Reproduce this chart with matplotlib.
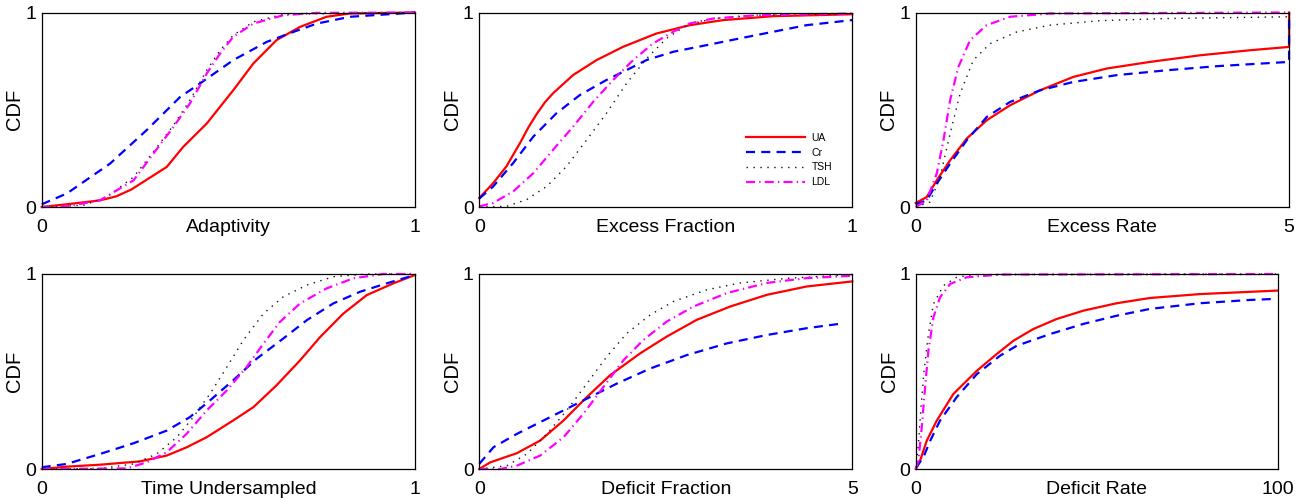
"""
Six-panel CDF comparison of UA, Cr, TSH and LDL.
"""

import matplotlib
matplotlib.use("Agg")
import matplotlib.pyplot as plt

plt.rcParams["font.family"] = ["Liberation Sans", "DejaVu Sans"]
plt.rcParams["lines.scale_dashes"] = False

# ── Series names / styles ──────────────────────────────────────────────
SERIES = ["UA", "Cr", "TSH", "LDL"]
STYLE = {
    "UA":  dict(color="#ff0000", lw=1.6, ls="-"),
    "Cr":  dict(color="#0000ff", lw=1.6, dashes=(6.5, 4.5)),
    "TSH": dict(color="#111111", lw=1.0, dashes=(1.0, 4.0)),
    "LDL": dict(color="#ff00ff", lw=1.6, dashes=(6.5, 3.0, 1.0, 3.0)),
}

# ── Adaptivity ─────────────────────────────────────────────────────────
adapt_ua_x = [0, 0.067, 0.156, 0.200, 0.240, 0.272, 0.335, 0.379, 0.442, 0.513, 0.567, 0.629, 0.692, 0.763, 0.826, 1.0]
adapt_ua_y = [0, 0.014, 0.034, 0.055, 0.090, 0.129, 0.206, 0.309, 0.429, 0.600, 0.738, 0.858, 0.926, 0.978, 0.995, 1.0]
adapt_cr_x = [0, 0.067, 0.183, 0.281, 0.371, 0.424, 0.513, 0.603, 0.674, 0.737, 0.826, 1.0]
adapt_cr_y = [0.014, 0.069, 0.223, 0.395, 0.566, 0.635, 0.755, 0.849, 0.900, 0.943, 0.978, 1.0]
adapt_tsh_x = [0, 0.112, 0.174, 0.246, 0.299, 0.353, 0.397, 0.442, 0.478, 0.513, 0.567, 0.647, 1.0]
adapt_tsh_y = [0, 0.009, 0.051, 0.154, 0.283, 0.420, 0.549, 0.703, 0.806, 0.883, 0.952, 0.991, 1.0]
adapt_ldl_x = [0, 0.067, 0.156, 0.246, 0.299, 0.353, 0.397, 0.442, 0.478, 0.513, 0.567, 0.647, 0.737, 1.0]
adapt_ldl_y = [0, 0.003, 0.034, 0.137, 0.274, 0.412, 0.532, 0.686, 0.789, 0.875, 0.943, 0.986, 0.998, 1.0]

# ── Excess Fraction ────────────────────────────────────────────────────
exfrac_ua_x = [0, 0.0375, 0.073, 0.109, 0.132, 0.154, 0.176, 0.198, 0.252, 0.315, 0.386, 0.475, 0.565, 0.654, 0.788, 1.0]
exfrac_ua_y = [0.046, 0.123, 0.209, 0.328, 0.410, 0.478, 0.538, 0.585, 0.679, 0.756, 0.824, 0.892, 0.935, 0.961, 0.981, 0.991]
exfrac_cr_x = [0, 0.0375, 0.091, 0.145, 0.207, 0.270, 0.341, 0.395, 0.449, 0.520, 0.609, 0.699, 0.788, 0.878, 1.0]
exfrac_cr_y = [0.043, 0.106, 0.226, 0.362, 0.482, 0.576, 0.653, 0.704, 0.756, 0.798, 0.832, 0.867, 0.901, 0.935, 0.961]
exfrac_tsh_x = [0, 0.073, 0.127, 0.181, 0.234, 0.288, 0.341, 0.395, 0.449, 0.502, 0.556, 0.627, 0.744, 1.0]
exfrac_tsh_y = [0, 0.003, 0.038, 0.106, 0.209, 0.345, 0.482, 0.636, 0.764, 0.867, 0.935, 0.969, 0.986, 0.995]
exfrac_ldl_x = [0, 0.0375, 0.091, 0.145, 0.198, 0.252, 0.306, 0.359, 0.413, 0.466, 0.520, 0.565, 0.627, 0.744, 1.0]
exfrac_ldl_y = [0.003, 0.021, 0.080, 0.174, 0.294, 0.414, 0.542, 0.653, 0.756, 0.841, 0.901, 0.944, 0.969, 0.986, 0.995]

# ── Excess Rate ────────────────────────────────────────────────────────
exrate_ua_x = [0, 0.147, 0.281, 0.46, 0.683, 0.951, 1.263, 1.665, 2.112, 2.558, 3.138, 3.808, 4.478, 5.0, 5.0]
exrate_ua_y = [0.021, 0.051, 0.137, 0.240, 0.352, 0.446, 0.523, 0.600, 0.669, 0.712, 0.746, 0.780, 0.806, 0.823, 1.0]
exrate_cr_x = [0, 0.147, 0.281, 0.46, 0.683, 0.951, 1.263, 1.665, 2.112, 2.692, 3.362, 4.031, 5.0, 5.0]
exrate_cr_y = [0.014, 0.034, 0.120, 0.223, 0.343, 0.463, 0.540, 0.600, 0.643, 0.678, 0.703, 0.724, 0.746, 1.0]
exrate_tsh_x = [0, 0.192, 0.326, 0.46, 0.594, 0.772, 0.996, 1.353, 1.799, 2.469, 3.362, 4.254, 5.0]
exrate_tsh_y = [0, 0.026, 0.154, 0.377, 0.583, 0.755, 0.840, 0.900, 0.935, 0.958, 0.969, 0.974, 0.978]
exrate_ldl_x = [0, 0.147, 0.281, 0.371, 0.46, 0.571, 0.728, 0.951, 1.263, 1.799, 5.0]
exrate_ldl_y = [0, 0.034, 0.172, 0.343, 0.549, 0.720, 0.858, 0.935, 0.978, 0.995, 1.0]

# ── Time Undersampled ──────────────────────────────────────────────────
tunder_ua_x = [0, 0.067, 0.156, 0.263, 0.335, 0.388, 0.442, 0.513, 0.567, 0.629, 0.692, 0.746, 0.808, 0.871, 0.942, 1.0]
tunder_ua_y = [0, 0.012, 0.022, 0.039, 0.069, 0.111, 0.163, 0.249, 0.317, 0.429, 0.557, 0.677, 0.797, 0.892, 0.952, 0.995]
tunder_cr_x = [0, 0.067, 0.156, 0.246, 0.335, 0.397, 0.451, 0.513, 0.576, 0.647, 0.710, 0.781, 0.853, 0.924, 1.0]
tunder_cr_y = [0.009, 0.026, 0.077, 0.132, 0.197, 0.266, 0.352, 0.455, 0.566, 0.669, 0.763, 0.849, 0.909, 0.952, 0.995]
tunder_tsh_x = [0, 0.156, 0.246, 0.308, 0.362, 0.406, 0.451, 0.496, 0.540, 0.594, 0.647, 0.710, 0.781, 0.871, 1.0]
tunder_tsh_y = [0, 0.002, 0.026, 0.077, 0.163, 0.266, 0.386, 0.523, 0.660, 0.797, 0.883, 0.943, 0.986, 1.0, 1.0]
tunder_ldl_x = [0, 0.228, 0.281, 0.335, 0.388, 0.442, 0.496, 0.549, 0.594, 0.638, 0.692, 0.763, 0.835, 0.915, 1.0]
tunder_ldl_y = [0, 0.003, 0.034, 0.086, 0.180, 0.300, 0.403, 0.523, 0.643, 0.754, 0.849, 0.926, 0.978, 1.0, 1.0]

# ── Deficit Fraction ───────────────────────────────────────────────────
defrac_ua_x = [0, 0.147, 0.504, 0.817, 1.13, 1.442, 1.754, 2.156, 2.513, 2.915, 3.362, 3.853, 4.388, 5.0]
defrac_ua_y = [0, 0.034, 0.081, 0.146, 0.249, 0.369, 0.481, 0.593, 0.679, 0.765, 0.833, 0.893, 0.936, 0.962]
defrac_cr_x = [0, 0.192, 0.504, 0.951, 1.397, 1.844, 2.29, 2.781, 3.317, 3.853, 4.388, 4.879]
defrac_cr_y = [0.026, 0.112, 0.180, 0.266, 0.352, 0.438, 0.515, 0.584, 0.644, 0.687, 0.722, 0.747]
defrac_tsh_x = [0, 0.371, 0.638, 0.906, 1.174, 1.442, 1.71, 1.978, 2.29, 2.603, 3.049, 3.496, 4.165, 5.0]
defrac_tsh_y = [0, 0.017, 0.077, 0.180, 0.301, 0.438, 0.576, 0.696, 0.790, 0.859, 0.919, 0.954, 0.979, 0.997]
defrac_ldl_x = [0, 0.281, 0.504, 0.817, 1.13, 1.397, 1.665, 1.933, 2.201, 2.513, 2.871, 3.317, 3.853, 4.388, 5.0]
defrac_ldl_y = [0, 0, 0.017, 0.069, 0.163, 0.284, 0.421, 0.558, 0.662, 0.756, 0.833, 0.902, 0.954, 0.979, 0.991]

# ── Deficit Rate ───────────────────────────────────────────────────────
derate_ua_x = [0, 1.2, 3.04, 5.8, 10.4, 16.9, 22.4, 27.0, 32.5, 38.9, 46.3, 55.5, 64.7, 78.5, 100]
derate_ua_y = [0, 0.043, 0.145, 0.248, 0.385, 0.504, 0.590, 0.658, 0.718, 0.769, 0.812, 0.850, 0.877, 0.897, 0.915]
derate_cr_x = [0, 2.1, 4.0, 6.7, 11.3, 16.9, 23.3, 27.9, 37.1, 46.3, 55.5, 64.7, 78.5, 92.4, 98.8]
derate_cr_y = [0.005, 0.060, 0.145, 0.248, 0.368, 0.487, 0.581, 0.632, 0.692, 0.744, 0.786, 0.821, 0.850, 0.867, 0.872]
derate_tsh_x = [0, 0.74, 1.38, 2.3, 3.5, 4.88, 7.6, 11.3, 15.9, 100]
derate_tsh_y = [0, 0.128, 0.299, 0.504, 0.692, 0.846, 0.940, 0.983, 0.997, 1.0]
derate_ldl_x = [0, 0.74, 1.66, 2.58, 3.5, 4.88, 6.7, 9.5, 14.1, 23.3, 100]
derate_ldl_y = [0, 0.043, 0.214, 0.419, 0.607, 0.778, 0.880, 0.949, 0.983, 0.997, 1.0]

PANELS = [
    ("Adaptivity", 1, "1", {
        "UA": (adapt_ua_x, adapt_ua_y), "Cr": (adapt_cr_x, adapt_cr_y),
        "TSH": (adapt_tsh_x, adapt_tsh_y), "LDL": (adapt_ldl_x, adapt_ldl_y)}),
    ("Excess Fraction", 1, "1", {
        "UA": (exfrac_ua_x, exfrac_ua_y), "Cr": (exfrac_cr_x, exfrac_cr_y),
        "TSH": (exfrac_tsh_x, exfrac_tsh_y), "LDL": (exfrac_ldl_x, exfrac_ldl_y)}),
    ("Excess Rate", 5, "5", {
        "UA": (exrate_ua_x, exrate_ua_y), "Cr": (exrate_cr_x, exrate_cr_y),
        "TSH": (exrate_tsh_x, exrate_tsh_y), "LDL": (exrate_ldl_x, exrate_ldl_y)}),
    ("Time Undersampled", 1, "1", {
        "UA": (tunder_ua_x, tunder_ua_y), "Cr": (tunder_cr_x, tunder_cr_y),
        "TSH": (tunder_tsh_x, tunder_tsh_y), "LDL": (tunder_ldl_x, tunder_ldl_y)}),
    ("Deficit Fraction", 5, "5", {
        "UA": (defrac_ua_x, defrac_ua_y), "Cr": (defrac_cr_x, defrac_cr_y),
        "TSH": (defrac_tsh_x, defrac_tsh_y), "LDL": (defrac_ldl_x, defrac_ldl_y)}),
    ("Deficit Rate", 100, "100", {
        "UA": (derate_ua_x, derate_ua_y), "Cr": (derate_cr_x, derate_cr_y),
        "TSH": (derate_tsh_x, derate_tsh_y), "LDL": (derate_ldl_x, derate_ldl_y)}),
]

# axes rectangles in figure fractions (left, bottom, width, height)
RECTS = [
    (0.0320, 0.586, 0.2865, 0.389),
    (0.3678, 0.586, 0.2863, 0.389),
    (0.7028, 0.586, 0.2865, 0.389),
    (0.0320, 0.062, 0.2865, 0.390),
    (0.3678, 0.062, 0.2863, 0.390),
    (0.7028, 0.062, 0.2778, 0.390),
]

fig = plt.figure(figsize=(13.03, 5.0), dpi=100)

for i, (rect, (xlabel, xmax, xmax_lbl, curves)) in enumerate(zip(RECTS, PANELS)):
    ax = fig.add_axes(rect)
    for name in SERIES:
        xs, ys = curves[name]
        ax.plot(xs, ys, label=name, clip_on=False, **STYLE[name])

    ax.set_xlim(0, xmax)
    ax.set_ylim(0, 1)
    ax.set_xticks([0, xmax])
    ax.set_xticklabels(["0", xmax_lbl])
    ax.set_yticks([0, 1])
    ax.set_yticklabels(["0", "1"])
    ax.tick_params(length=0, labelsize=14)
    ax.tick_params(axis="x", pad=9)
    ax.tick_params(axis="y", pad=4)
    for sp in ax.spines.values():
        sp.set_linewidth(0.9)

    ax.set_xlabel(xlabel, fontsize=14)
    ax.xaxis.set_label_coords(0.5, -0.06)
    ax.set_ylabel("CDF", fontsize=14.5)
    ax.yaxis.set_label_coords(-0.047, 0.5)

    if i == 1:
        ax.legend(loc="upper left", bbox_to_anchor=(0.715, 0.38),
                  frameon=False, fontsize=7.5, handlelength=5.7,
                  handletextpad=0.6, labelspacing=0.45, borderpad=0,
                  borderaxespad=0)

fig.savefig("out.png", dpi=100)
plt.close(fig)
